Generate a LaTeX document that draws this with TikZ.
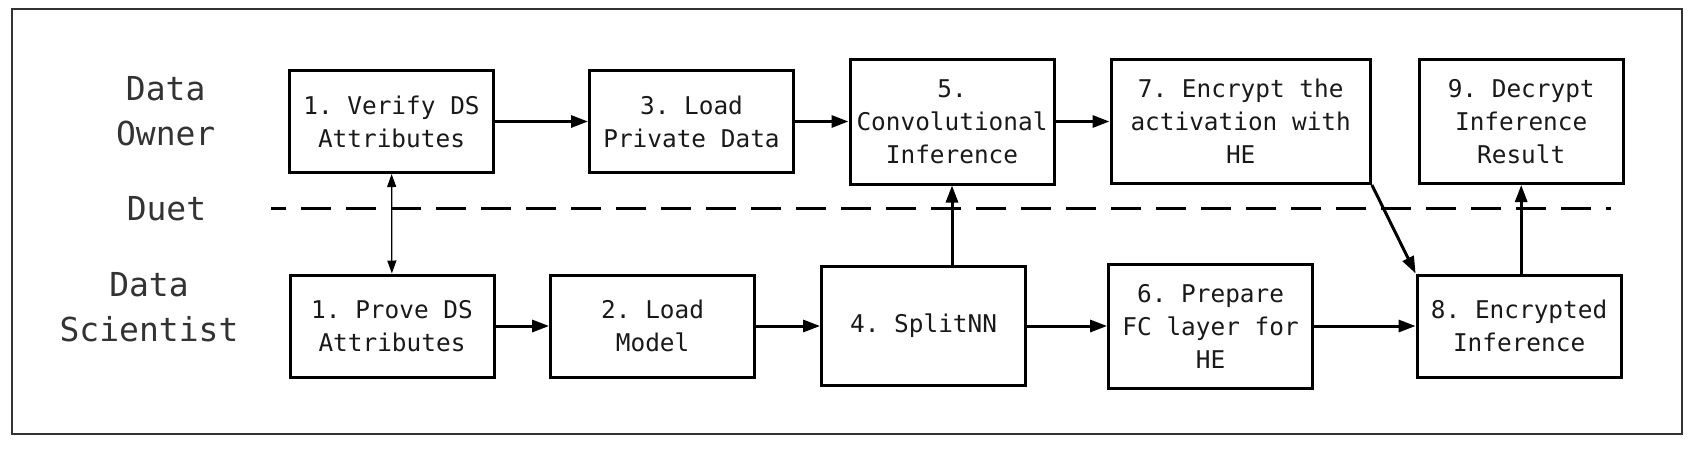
\documentclass[tikz,border=0pt]{standalone}
\usepackage{fontspec}
\setmonofont{DejaVu Sans Mono}
\usetikzlibrary{arrows.meta,positioning}
\tikzset{
  stepbox/.style={rectangle, draw, line width=1.5pt, minimum height=51pt,
              minimum width=102pt, inner xsep=1pt, align=center,
              text=black!90, font=\ttfamily\fontsize{12.2}{16.5}\selectfont},
  lane/.style={align=center, text=black!80, font=\ttfamily\fontsize{16.5}{22.5}\selectfont},
  arr/.style={-{Triangle[length=8.5pt,width=6pt]}, line width=1.5pt},
  darr/.style={{Triangle[length=6.5pt,width=4.5pt]}-{Triangle[length=6.5pt,width=4.5pt]},
              line width=0.6pt},
  divider/.style={line width=1.5pt, dash pattern=on 15pt off 7.5pt, dash phase=7.5pt}
}

\begin{document}
\begin{tikzpicture}[x=0.5pt, y=-0.5pt]
  \useasboundingbox (0,0) rectangle (1698,456);
  \draw[black!80, line width=1pt] (11.5,9) rectangle (1682,434);

  % lanes
  \node[lane] (owner) at (165.7,111) {Data\\Owner};
  \node[lane] (duet) at (166.5,209) {Duet};
  \node[lane] (scientist) at (149,307.5) {Data\\Scientist};

  % data owner side
  \node[stepbox] (verify) at (391.5,121.5) {1. Verify DS\\Attributes};
  \node[stepbox, right=46.5pt of verify] (loadpriv) {3. Load\\Private Data};
  \node[stepbox, minimum height=62.5pt, right=26.75pt of loadpriv] (conv) {5.\\Convolutional\\Inference};
  \node[stepbox, minimum width=129.7pt, minimum height=62pt, right=27pt of conv] (encrypt) {7. Encrypt the\\activation with\\HE};
  \node[stepbox, minimum height=62pt, right=22.9pt of encrypt] (decrypt) {9. Decrypt\\Inference\\Result};

  % data scientist side
  \node[stepbox] (prove) at (392,326) {1. Prove DS\\Attributes};
  \node[stepbox, right=26.8pt of prove] (loadmodel) {2. Load\\Model};
  \node[stepbox, minimum height=59.5pt, right=32pt of loadmodel] (splitnn) {4. SplitNN};
  \node[stepbox, minimum height=62pt, right=40pt of splitnn] (prepare) {6. Prepare\\FC layer for\\HE};
  \node[stepbox, right=50.75pt of prepare] (encinf) {8. Encrypted\\Inference};

  \coordinate (divL) at (271,208);
  \coordinate (divR) at (1611,208);
  \draw[divider] (divL) -- (divR);

  \draw[darr] (verify) -- (prove);
  \draw[arr] (verify) -- (loadpriv); \draw[arr] (loadpriv) -- (conv); \draw[arr] (conv) -- (encrypt);
  \draw[arr] (prove) -- (loadmodel); \draw[arr] (loadmodel) -- (splitnn); \draw[arr] (splitnn) -- (prepare);
  \draw[arr] (prepare) -- (encinf);
  \draw[arr] (splitnn.north -| conv.south) -- (conv.south);
  \draw[arr] (encrypt.south east) -- (encinf.north west);
  \draw[arr] (encinf.north -| decrypt.south) -- (decrypt.south);
\end{tikzpicture}
\end{document}
